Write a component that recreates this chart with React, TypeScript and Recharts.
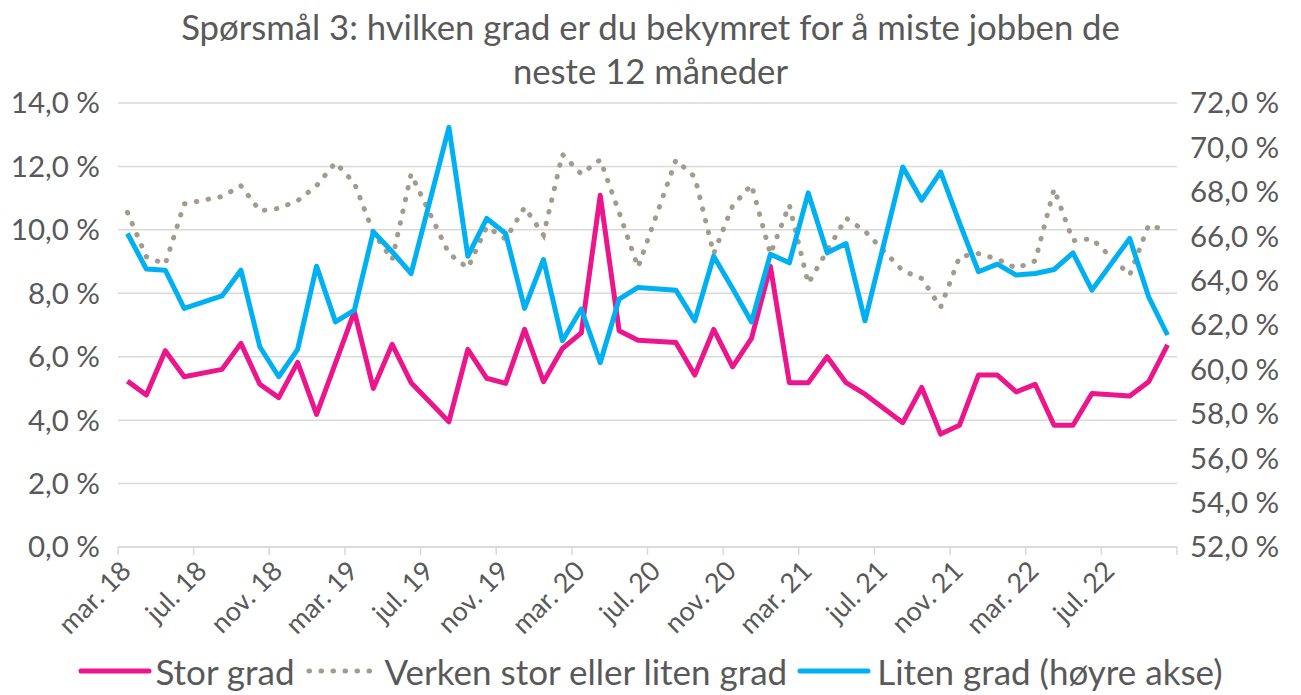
import React from 'react';
import { LineChart, Line, XAxis, YAxis, CartesianGrid, Legend } from 'recharts';

const surveyMonths = [
  '2018-03','2018-04','2018-05','2018-06','2018-08','2018-09','2018-10','2018-11','2018-12',
  '2019-01','2019-02','2019-03','2019-04','2019-05','2019-06','2019-08','2019-09','2019-10','2019-11','2019-12',
  '2020-01','2020-02','2020-03','2020-04','2020-05','2020-06','2020-08','2020-09','2020-10','2020-11','2020-12',
  '2021-01','2021-02','2021-03','2021-04','2021-05','2021-06','2021-08','2021-09','2021-10','2021-11','2021-12',
  '2022-01','2022-02','2022-03','2022-04','2022-05','2022-06','2022-08','2022-09','2022-10',
];

const storGrad = [
  5.23, 4.79, 6.19, 5.37, 5.60, 6.42, 5.13, 4.71, 5.82,
  4.18, 5.80, 7.42, 5.00, 6.39, 5.18, 3.95, 6.23, 5.32, 5.16, 6.86,
  5.21, 6.26, 6.75, 11.09, 6.82, 6.52, 6.45, 5.42, 6.86, 5.68, 6.58,
  8.85, 5.18, 5.18, 6.00, 5.18, 4.82, 3.92, 5.03, 3.56, 3.84, 5.42,
  5.42, 4.89, 5.13, 3.84, 3.84, 4.84, 4.76, 5.21, 6.37,
];

const verkenGrad = [
  10.55, 9.15, 8.92, 10.82, 11.05, 11.39, 10.60, 10.68, 10.92,
  11.39, 12.12, 11.47, 9.92, 9.06, 11.76, 9.25, 8.80, 10.10, 9.71, 10.71,
  9.84, 12.38, 11.76, 12.21, 10.55, 8.82, 12.20, 11.67, 9.25, 10.76, 11.42,
  9.24, 10.79, 8.31, 9.34, 10.37, 9.96, 8.71, 8.47, 7.56, 9.15, 9.25,
  9.08, 8.79, 9.02, 11.29, 9.66, 9.72, 8.58, 10.15, 9.98,
];

const litenGrad = [
  66.12, 64.52, 64.47, 62.75, 63.31, 64.47, 61.02, 59.67, 60.90,
  64.65, 62.14, 62.67, 66.20, 65.30, 64.32, 70.90, 65.10, 66.80, 66.12, 62.75,
  64.95, 61.29, 62.72, 60.30, 63.17, 63.69, 63.57, 62.19, 65.10, 63.64, 62.14,
  65.19, 64.80, 67.95, 65.25, 65.67, 62.19, 69.12, 67.62, 68.90, 66.60, 64.40,
  64.74, 64.25, 64.32, 64.50, 65.25, 63.57, 65.90, 63.27, 61.55,
];

const xTickLabels = [
  'mar. 18','jul. 18','nov. 18','mar. 19','jul. 19','nov. 19','mar. 20',
  'jul. 20','nov. 20','mar. 21','jul. 21','nov. 21','mar. 22','jul. 22',
];
const leftTicks = [0, 2, 4, 6, 8, 10, 12, 14];
const rightTicks = [52, 54, 56, 58, 60, 62, 64, 66, 68, 70, 72];

const seriesNames = ['Stor grad', 'Verken stor eller liten grad', 'Liten grad (høyre akse)'];
const PINK = '#EC168C';
const GREY = '#A39B8B';
const BLUE = '#00B0F0';
const TEXT = '#595959';
const FONT = 'Lato, "Noto Sans", sans-serif';

const monthOffset = (ym: string) => {
  const [y, m] = ym.split('-').map(Number);
  return (y - 2018) * 12 + (m - 3) + 0.5;
};

const data = surveyMonths.map((ym, i) => ({
  t: monthOffset(ym),
  stor: storGrad[i],
  verken: verkenGrad[i],
  liten: litenGrad[i],
}));

const xTicks = [...xTickLabels.map((_, i) => i * 4), xTickLabels.length * 4];

const pct = (v: number) => v.toFixed(1).replace('.', ',') + ' %';

const XTick = (props: any) => {
  const { x, y, payload } = props;
  const label = xTickLabels[Math.round(payload.value / 4)];
  if (!label || payload.value % 4 !== 0) return null;
  return (
    <g transform={`translate(${x + 8},${y + 9})`}>
      <text
        transform="rotate(-45)"
        textAnchor="end"
        dy="0.35em"
        fill={TEXT}
        fontSize={27}
        fontFamily={FONT}
      >
        {label}
      </text>
    </g>
  );
};

const LegendContent = () => (
  <div
    style={{
      display: 'flex',
      justifyContent: 'center',
      alignItems: 'center',
      fontFamily: FONT,
      fontSize: 35,
      color: TEXT,
      height: 48,
      whiteSpace: 'nowrap',
    }}
  >
    <svg width={74} height={10} style={{ marginRight: 3 }}>
      <line x1={3} y1={5} x2={71} y2={5} stroke={PINK} strokeWidth={5} strokeLinecap="round" />
    </svg>
    <span style={{ marginRight: 10 }}>{seriesNames[0]}</span>
    <svg width={74} height={10} style={{ marginRight: 6 }}>
      <line x1={4} y1={5} x2={70} y2={5} stroke={GREY} strokeWidth={5} strokeLinecap="round" strokeDasharray="0.5 11.5" />
    </svg>
    <span style={{ marginRight: 10 }}>{seriesNames[1]}</span>
    <svg width={74} height={10} style={{ marginRight: 6 }}>
      <line x1={3} y1={5} x2={71} y2={5} stroke={BLUE} strokeWidth={5} strokeLinecap="round" />
    </svg>
    <span>{seriesNames[2]}</span>
  </div>
);

export default function App() {
  return (
    <div style={{ position: 'absolute', left: 0, top: 0, width: 1301, height: 695, background: '#fff' }}>
      <div
        style={{
          position: 'absolute',
          left: 0,
          top: 5,
          width: 1301,
          textAlign: 'center',
          fontFamily: FONT,
          fontSize: 34.7,
          lineHeight: '44px',
          color: TEXT,
        }}
      >
        <div>Spørsmål 3: hvilken grad er du bekymret for å miste jobben de</div>
        <div>neste 12 måneder</div>
      </div>
      <LineChart
        width={1301}
        height={695}
        data={data}
        margin={{ top: 103, right: 0, bottom: 0, left: 0 }}
      >
        <CartesianGrid vertical={false} stroke="#D9D9D9" strokeWidth={1.5} yAxisId="left" />
        <XAxis
          dataKey="t"
          type="number"
          domain={[0, 56]}
          ticks={xTicks}
          interval={0}
          tick={<XTick />}
          height={100}
          stroke="#D9D9D9"
          strokeWidth={1.5}
          tickSize={8}
          allowDataOverflow
        />
        <YAxis
          yAxisId="left"
          domain={[0, 14]}
          ticks={leftTicks}
          interval={0}
          tickFormatter={pct}
          width={118}
          axisLine={false}
          tickLine={false}
          tickSize={0}
          tickMargin={18}
          tick={{ fill: TEXT, fontSize: 29.5, fontFamily: FONT }}
        />
        <YAxis
          yAxisId="right"
          orientation="right"
          domain={[52, 72]}
          ticks={rightTicks}
          interval={0}
          tickFormatter={pct}
          width={124}
          axisLine={false}
          tickLine={false}
          tickSize={0}
          tickMargin={13}
          tick={{ fill: TEXT, fontSize: 29.5, fontFamily: FONT, textAnchor: 'start' }}
        />
        <Legend verticalAlign="bottom" height={48} content={<LegendContent />} />
        <Line
          yAxisId="left"
          dataKey="stor"
          name={seriesNames[0]}
          stroke={PINK}
          strokeWidth={5}
          dot={false}
          strokeLinejoin="round"
          isAnimationActive={false}
        />
        <Line
          yAxisId="left"
          dataKey="verken"
          name={seriesNames[1]}
          stroke={GREY}
          strokeWidth={5}
          strokeDasharray="0.5 11.5"
          strokeLinecap="round"
          dot={false}
          isAnimationActive={false}
        />
        <Line
          yAxisId="right"
          dataKey="liten"
          name={seriesNames[2]}
          stroke={BLUE}
          strokeWidth={5}
          dot={false}
          strokeLinejoin="round"
          isAnimationActive={false}
        />
      </LineChart>
    </div>
  );
}
